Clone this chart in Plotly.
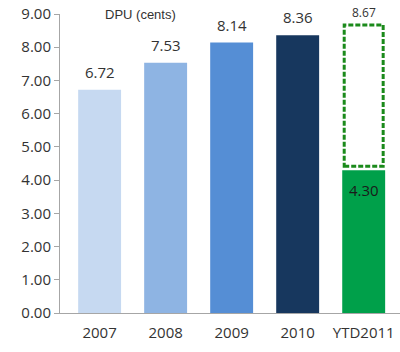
import plotly.graph_objects as go

categories = ["2007", "2008", "2009", "2010", "YTD2011"]
values = [6.72, 7.53, 8.14, 8.36, 4.30]
colors = ["#C6D9F1", "#8EB4E3", "#558ED5", "#17375E", "#00A04A"]
target_label = "8.67"
target_value = 8.67
y_ticks = [0, 1, 2, 3, 4, 5, 6, 7, 8, 9]

bar_width = 0.65
box_inset = 0.03
font_family = "'Open Sans', 'Noto Sans', sans-serif"
text_color = "#333333"

fig = go.Figure()
fig.add_trace(go.Bar(
    x=list(range(len(categories))), y=values,
    marker=dict(color=colors, line=dict(width=0)),
    width=bar_width,
    cliponaxis=False,
    showlegend=False,
    hoverinfo="skip",
))

last = len(categories) - 1
for i, v in enumerate(values):
    if i < last:
        fig.add_annotation(x=i, y=v, xref="x", yref="y", text=f"{v:.2f}",
                           showarrow=False, yanchor="bottom", yshift=6,
                           font=dict(size=15, color=text_color, family=font_family))
    else:
        fig.add_annotation(x=i, y=v, xref="x", yref="y", text=f"{v:.2f}",
                           showarrow=False, yanchor="top", yshift=-8,
                           font=dict(size=15, color="#1A1A1A", family=font_family))

fig.add_shape(type="rect", xref="x", yref="y",
              x0=last - bar_width / 2 + box_inset, x1=last + bar_width / 2 - box_inset,
              y0=values[last] + 0.12, y1=target_value,
              line=dict(color="#1B8A1B", width=3, dash="5px,2px"),
              fillcolor="rgba(0,0,0,0)")
fig.add_annotation(x=last, y=target_value, xref="x", yref="y",
                   text=target_label, showarrow=False, yanchor="bottom", yshift=2,
                   font=dict(size=12, color=text_color, family=font_family))
fig.add_annotation(x=0.125, y=1.0, xref="paper", yref="paper",
                   text="DPU (cents)", showarrow=False, xanchor="left", yanchor="middle",
                   font=dict(size=13, color=text_color, family="Liberation Sans, Arial, sans-serif"))

fig.update_layout(
    width=400, height=352,
    margin=dict(l=60, r=0, t=14, b=39),
    paper_bgcolor="white", plot_bgcolor="white",
    font=dict(family=font_family, color=text_color),
)
fig.update_xaxes(
    range=[-0.6, 4.55],
    tickmode="array", tickvals=list(range(len(categories))), ticktext=categories,
    tickfont=dict(size=15, color=text_color),
    ticklabelstandoff=6,
    showline=True, linecolor="#A6A6A6", linewidth=1,
    ticks="", showgrid=False, zeroline=False,
)
fig.update_yaxes(
    range=[0, 9],
    tickmode="array", tickvals=y_ticks, ticktext=[f"{t:.2f}" for t in y_ticks],
    tickfont=dict(size=15, color=text_color),
    showline=True, linecolor="#A6A6A6", linewidth=1,
    ticks="outside", ticklen=5, tickcolor="#A6A6A6",
    showgrid=False, zeroline=False,
)

fig.write_html("out.html")
